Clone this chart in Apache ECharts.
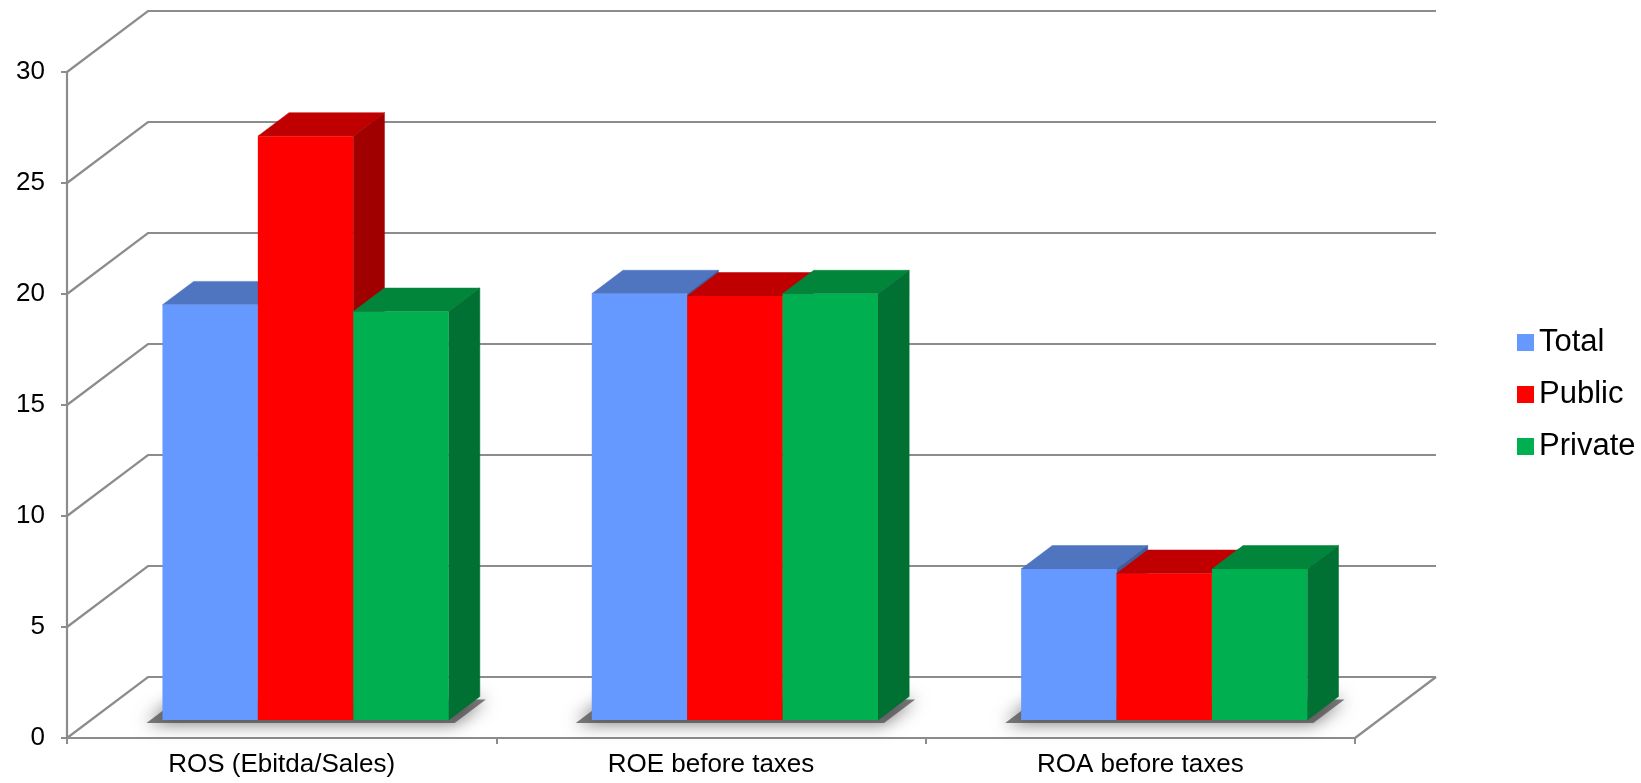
<!DOCTYPE html>
<html>
<head>
<meta charset="utf-8">
<script src="https://cdn.jsdelivr.net/npm/echarts@6/dist/echarts.min.js"></script>
<style>
    html, body { margin: 0; padding: 0; background: #fff; }
    #chart { width: 1641px; height: 783px; }
</style>
</head>
<body>
<div id="chart"></div>
<script>
(function () {
    'use strict';

    var categories = ['ROS (Ebitda/Sales)', 'ROE before taxes', 'ROA before taxes'];
    var seriesNames = ['Total', 'Public', 'Private'];
    var totalValues = [18.7, 19.2, 6.8];
    var publicValues = [26.3, 19.1, 6.6];
    var privateValues = [18.4, 19.2, 6.8];
    var yTicks = [0, 5, 10, 15, 20, 25, 30];

    // fake 3D: depth vector of the floor and where the bars sit in it
    var DX = 81, DY = -61;
    var F0 = 0.295, F1 = 0.68;
    var BAR_RATIO = 0.2222;
    var GRID = '#8c8c8c';
    var FONT = '"Liberation Sans", Arial, sans-serif';

    var faces = [
        { front: '#6699ff', top: '#4f74c0', side: '#3f5e9e' },
        { front: '#ff0000', top: '#c00000', side: '#a00000' },
        { front: '#00b050', top: '#00853b', side: '#007033' }
    ];

    function pairs(values) {
        var out = [];
        for (var i = 0; i < values.length; i++) {
            out.push([i, values[i]]);
        }
        return out;
    }

    function wallItem(params, api) {
        var cs = params.coordSys;
        var v = api.value(1);
        var y = api.coord([0, v])[1];
        var xl = cs.x, xr = cs.x + cs.width;
        var children = [{
            type: 'polyline',
            shape: { points: [[xl, y], [xl + DX, y + DY], [xr + DX, y + DY]] },
            style: { stroke: GRID, lineWidth: 2.2, fill: null }
        }];
        if (v === 0) {
            children.push({
                type: 'line',
                shape: { x1: xr, y1: y, x2: xr + DX, y2: y + DY },
                style: { stroke: GRID, lineWidth: 2.2 }
            });
        }
        return { type: 'group', children: children };
    }

    // soft floor shadow under each group of bars
    function shadowItem(params, api) {
        var base = api.coord([api.value(0), 0]);
        var bw = api.size([1, 0])[0] * BAR_RATIO;
        var x0 = base[0] - 1.5 * bw + DX * F0 - 16;
        var x1 = x0 + 3 * bw + 22;
        var yb = base[1] + DY * F0 + 3;
        var ddx = DX * (F1 - F0), ddy = DY * (F1 - F0);
        return {
            type: 'polygon',
            shape: { points: [[x0, yb], [x1, yb], [x1 + ddx, yb + ddy], [x0 + ddx, yb + ddy]] },
            style: { fill: 'rgba(70,70,70,0.7)', shadowBlur: 18, shadowColor: 'rgba(0,0,0,0.8)' }
        };
    }

    function barItem(k) {
        var c = faces[k];
        return function (params, api) {
            var base = api.coord([api.value(0), 0]);
            var peak = api.coord([api.value(0), api.value(1)]);
            var bw = api.size([1, 0])[0] * BAR_RATIO;
            var x0 = base[0] - 1.5 * bw + k * bw + DX * F0;
            var x1 = x0 + bw;
            var yb = base[1] + DY * F0;
            var yt = peak[1] + DY * F0;
            var ddx = DX * (F1 - F0), ddy = DY * (F1 - F0);
            return {
                type: 'group',
                children: [{
                    type: 'polygon',
                    shape: { points: [[x0, yt], [x1, yt], [x1 + ddx, yt + ddy], [x0 + ddx, yt + ddy]] },
                    style: { fill: c.top, stroke: c.top, lineWidth: 0.5 }
                }, {
                    type: 'polygon',
                    shape: { points: [[x1, yt], [x1 + ddx, yt + ddy], [x1 + ddx, yb + ddy], [x1, yb]] },
                    style: { fill: c.side, stroke: c.side, lineWidth: 0.5 }
                }, {
                    type: 'rect',
                    shape: { x: x0, y: yt, width: bw, height: yb - yt },
                    style: { fill: c.front }
                }]
            };
        };
    }

    var valueSets = [totalValues, publicValues, privateValues];
    var series = [{
        type: 'custom',
        z: 1,
        silent: true,
        renderItem: wallItem,
        encode: { x: 0, y: 1 },
        data: yTicks.map(function (t) { return [0, t]; })
    }, {
        type: 'custom',
        z: 1,
        silent: true,
        renderItem: shadowItem,
        encode: { x: 0, y: 1 },
        data: pairs([0, 0, 0])
    }];
    for (var s = 0; s < seriesNames.length; s++) {
        series.push({
            name: seriesNames[s],
            type: 'custom',
            z: 3,
            renderItem: barItem(s),
            itemStyle: { color: faces[s].front },
            encode: { x: 0, y: 1 },
            data: pairs(valueSets[s])
        });
    }

    var chart = echarts.init(document.getElementById('chart'));
    chart.setOption({
        animation: false,
        backgroundColor: '#fff',
        grid: { left: 67, top: 72, width: 1288, bottom: 45 },
        legend: {
            orient: 'vertical',
            left: 1512,
            top: 322,
            icon: 'rect',
            itemWidth: 17,
            itemHeight: 17,
            itemGap: 21,
            data: seriesNames,
            textStyle: { fontFamily: FONT, fontSize: 31, color: '#000' }
        },
        xAxis: {
            type: 'category',
            data: categories,
            axisLine: { lineStyle: { color: GRID, width: 2.2 } },
            axisTick: { show: true, length: 6, interval: 0, lineStyle: { color: GRID, width: 2 } },
            axisLabel: { fontFamily: FONT, fontSize: 26, color: '#000', margin: 14 },
            splitLine: { show: false }
        },
        yAxis: {
            type: 'value',
            min: 0,
            max: 30,
            interval: 5,
            axisLine: { show: true, lineStyle: { color: GRID, width: 2.2 } },
            axisTick: { show: true, length: 6, lineStyle: { color: GRID, width: 2 } },
            axisLabel: { fontFamily: FONT, fontSize: 26, color: '#000', margin: 22 },
            splitLine: { show: false }
        },
        series: series
    });
}());
</script>
</body>
</html>
